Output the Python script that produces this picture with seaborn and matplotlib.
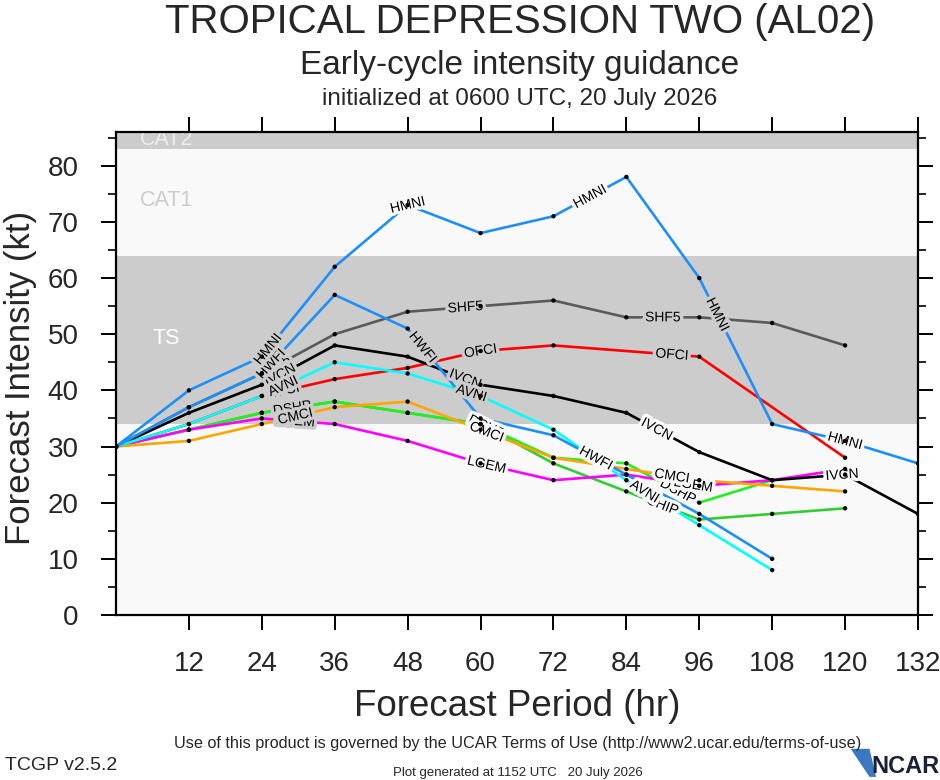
import numpy as np
import pandas as pd
import matplotlib
matplotlib.use("Agg")
import matplotlib.pyplot as plt
import matplotlib.patheffects as pe
import seaborn as sns
from matplotlib.patches import Polygon

# ---------------- data ----------------
hours_132 = [0, 12, 24, 36, 48, 60, 72, 84, 96, 108, 120, 132]
hours_120 = hours_132[:11]
hours_108 = hours_132[:10]
ofci_hours = [0, 12, 24, 36, 48, 60, 72, 96, 120]

HMNI = [30, 40, 46, 62, 73, 68, 71, 78, 60, 34, 31, 27]
HWFI = [30, 37, 43, 57, 51, 35, 32, 25, 18, 10]
SHF5 = [30, 37, 43, 50, 54, 55, 56, 53, 53, 52, 48]
IVCN = [30, 36, 41, 48, 46, 41, 39, 36, 29, 24, 25, 18]
AVNI = [30, 34, 39, 45, 43, 39, 33, 24, 16, 8]
OFCI = [30, 34, 39, 42, 44, 47, 48, 46, 28]
SHIP = [30, 33, 36, 38, 36, 34, 27, 22, 17, 18, 19]
DSHP = [30, 33, 36, 38, 36, 34, 28, 27, 20, 24]
LGEM = [30, 33, 35, 34, 31, 27, 24, 25, 23, 24, 26]
CMCI = [30, 31, 34, 37, 38, 33, 28, 26, 24, 23, 22]

x_ticks = [12, 24, 36, 48, 60, 72, 84, 96, 108, 120, 132]
y_ticks = [0, 10, 20, 30, 40, 50, 60, 70, 80]

# (name, hours, values, colour, label hours) in drawing order
series = [
    ("SHF5", hours_120, SHF5, "#5a5a5a", [26, 57.5, 90]),
    ("SHIP", hours_120, SHIP, "#33cc33", [29, 61, 90]),
    ("DSHP", hours_108, DSHP, "#22ee22", [29, 61, 92.5]),
    ("LGEM", hours_120, LGEM, "#ff00ff", [29.5, 61, 95]),
    ("CMCI", hours_120, CMCI, "#ffa500", [29.5, 61, 91.5]),
    ("OFCI", ofci_hours, OFCI, "#ff0000", [27.5, 60, 91.5]),
    ("IVCN", hours_132, IVCN, "#000000", [27, 57.5, 89, 119.5]),
    ("AVNI", hours_108, AVNI, "#00ffff", [27.5, 58.5, 87]),
    ("HWFI", hours_108, HWFI, "#1e8ff5", [25.5, 50.5, 79]),
    ("HMNI", hours_132, HMNI, "#1e8ff5", [25, 48, 78, 99, 120]),
]

# ---------------- fonts ----------------
sns.set_theme(style="white")
plt.rcParams["font.family"] = ["Liberation Sans", "DejaVu Sans"]

GRAY = "#cccccc"
LIGHT = "#f9f9f9"

fig = plt.figure(figsize=(9.4, 7.8), dpi=100)
fig.patch.set_facecolor("white")
ax = fig.add_axes([116 / 940, 1 - 615 / 780, (918 - 116) / 940, (615 - 132) / 780])
ax.set_xlim(0, 132)
ax.set_ylim(0, 86)
ax.set_facecolor(LIGHT)

# intensity bands
ax.axhspan(0, 34, color=LIGHT, zorder=0, lw=0)
ax.axhspan(34, 64, color=GRAY, zorder=0, lw=0)
ax.axhspan(64, 83, color=LIGHT, zorder=0, lw=0)
ax.axhspan(83, 90, color=GRAY, zorder=0, lw=0)
ax.text(4.0, 84.6, "CAT2", color="#eeeeee", fontsize=15.5, va="center", ha="left",
        zorder=1, clip_on=True)
ax.text(4.0, 73.8, "CAT1", color="#cccccc", fontsize=15.5, va="center", ha="left", zorder=1)
ax.text(6.0, 49.2, "TS", color="white", fontsize=15.5, va="center", ha="left", zorder=1)

# lines
frames = []
for name, hrs, vals, col, _ in series:
    df = pd.DataFrame({"hour": hrs, "kt": vals, "model": name})
    frames.append(df)
    sns.lineplot(data=df, x="hour", y="kt", color=col, lw=1.9, ax=ax, sort=False,
                 legend=False, zorder=3)
alldf = pd.concat(frames, ignore_index=True)
sns.scatterplot(data=alldf, x="hour", y="kt", color="black", s=10, edgecolor="none",
                ax=ax, legend=False, zorder=6)

# line labels
for name, hrs, vals, col, lab_hours in series:
    for h in lab_hours:
        v = float(np.interp(h, hrs, vals))
        eps = 0.01
        slope = (np.interp(h + eps, hrs, vals) - np.interp(h - eps, hrs, vals)) / (2 * eps)
        ang = np.degrees(np.arctan2(slope, 1.0))
        bg = GRAY if (34 <= v < 64 or v >= 83) else LIGHT
        ax.text(h, v, name, fontsize=10, color="black", ha="center", va="center",
                rotation=ang, transform_rotates_text=True, rotation_mode="anchor", zorder=5,
                path_effects=[pe.withStroke(linewidth=5, foreground=bg)])

# axes styling
for sp in ax.spines.values():
    sp.set_visible(True)
    sp.set_color("black")
    sp.set_linewidth(1.6)
    sp.set_zorder(7)
ax.set_xticks(x_ticks)
ax.set_xticklabels([str(t) for t in x_ticks])
ax.set_yticks(y_ticks)
ax.set_yticklabels([str(t) for t in y_ticks])
ax.set_yticks(np.arange(5, 86, 10), minor=True)
ax.tick_params(axis="both", which="major", direction="out", length=11, width=1.4,
               color="black", labelsize=20, top=True, right=True, bottom=True, left=True)
ax.tick_params(axis="x", which="major", pad=15)
ax.tick_params(axis="y", which="major", pad=16)
ax.tick_params(axis="y", which="minor", direction="out", length=5.5, width=1.2,
               color="black", left=True, right=True)
ax.set_xlabel("")
ax.set_ylabel("")
ax.grid(False)

fig.text(517 / 940, 1 - 706 / 780, "Forecast Period (hr)", fontsize=26.5, ha="center", va="center")
fig.text(21 / 940, 1 - 378 / 780, "Forecast Intensity (kt)", fontsize=25, rotation=90,
         ha="center", va="center")

# titles
fig.text(0.553, 0.958, "TROPICAL DEPRESSION TWO (AL02)", fontsize=29, ha="center", va="baseline")
fig.text(0.553, 0.905, "Early-cycle intensity guidance", fontsize=24, ha="center", va="baseline")
fig.text(0.553, 0.866, "initialized at 0600 UTC, 20 July 2026", fontsize=17.5, ha="center", va="baseline")

# footer
fig.text(0.551, 0.047, "Use of this product is governed by the UCAR Terms of Use (http://www2.ucar.edu/terms-of-use)",
         fontsize=11.7, ha="center", va="center")
fig.text(0.005, 0.019, "TCGP v2.5.2", fontsize=14, ha="left", va="center")
fig.text(0.551, 0.009, "Plot generated at 1152 UTC   20 July 2026", fontsize=9.5, ha="center", va="center")
fig.text(0.999, 0.017, "NCAR", fontsize=17, fontweight="bold", color="#1a1f3a", ha="right", va="center")
fig.patches.append(Polygon([[0.905, 0.040], [0.925, 0.040], [0.932, 0.004], [0.925, 0.004]],
                           closed=True, transform=fig.transFigure, fc="#3a78c2", ec="none"))

fig.savefig("out.png", dpi=100, facecolor="white")
